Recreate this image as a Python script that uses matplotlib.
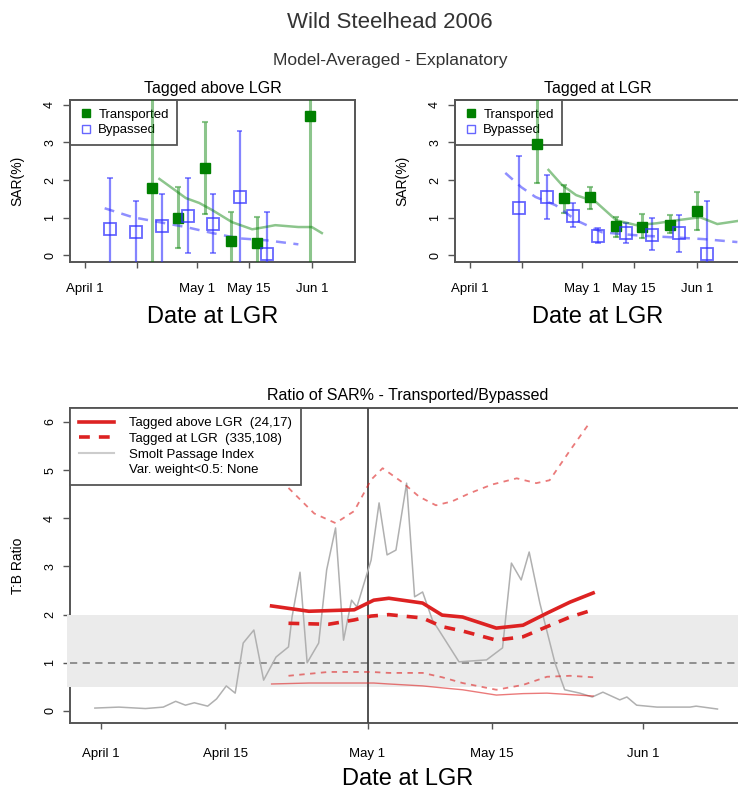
import numpy as np
import matplotlib
matplotlib.use("Agg")
import matplotlib.pyplot as plt
from matplotlib.lines import Line2D
from matplotlib.patches import Rectangle
import matplotlib.transforms as mtransforms

plt.rcParams['font.family'] = ['Liberation Sans', 'DejaVu Sans']

# x = days since April 1
tick_days = [0, 14, 30, 44, 61]
tick_top = ["April 1", "", "May 1", "May 15", "Jun 1"]
tick_bottom = ["April 1", "April 15", "May 1", "May 15", "Jun 1"]

# --- Tagged above LGR ---
a_tr_day = [18.1, 25.1, 32.2, 39.1, 46.2, 60.4]
a_tr_sar = [1.78, 0.99, 2.32, 0.37, 0.32, 3.71]
a_tr_lo = [-0.3, 0.19, 1.09, -0.3, -0.3, -0.3]
a_tr_hi = [4.5, 1.81, 3.55, 1.14, 1.01, 4.5]
a_by_day = [6.7, 13.8, 20.6, 27.7, 34.5, 41.5, 48.9]
a_by_sar = [0.69, 0.61, 0.77, 1.04, 0.83, 1.55, 0.02]
a_by_lo = [-0.3, -0.3, -0.3, 0.05, 0.05, -0.3, -0.3]
a_by_hi = [2.05, 1.44, 1.63, 2.05, 1.63, 3.31, 1.14]
a_tr_fit_day = [20, 23.5, 27.1, 30.7, 34.2, 39.5, 44.9, 48.4, 51.1, 57.3, 60.9, 63.6]
a_tr_fit = [2.03, 1.78, 1.52, 1.39, 1.2, 0.88, 0.69, 0.75, 0.8, 0.75, 0.75, 0.59]
a_by_fit_day = [5.3, 12.9, 20, 27.1, 34.2, 41.3, 48.4, 57.3]
a_by_fit = [1.25, 1.01, 0.88, 0.75, 0.59, 0.45, 0.4, 0.29]

# --- Tagged at LGR ---
g_tr_day = [17.9, 25.2, 32.3, 39.3, 46.3, 53.7, 61.0]
g_tr_sar = [2.96, 1.52, 1.55, 0.77, 0.75, 0.8, 1.17]
g_tr_lo = [1.92, 1.12, 1.23, 0.48, 0.45, 0.59, 0.67]
g_tr_hi = [4.5, 1.87, 1.81, 1.01, 1.09, 1.07, 1.68]
g_by_day = [13.3, 20.6, 27.6, 34.4, 42.0, 49.0, 56.1, 63.7]
g_by_sar = [1.25, 1.55, 1.04, 0.51, 0.59, 0.53, 0.59, 0.02]
g_by_lo = [-0.3, 0.96, 0.75, 0.32, 0.32, 0.13, 0.08, -0.3]
g_by_hi = [2.64, 2.13, 1.39, 0.72, 0.85, 0.99, 1.07, 1.44]
g_tr_fit_day = [21.1, 24.7, 28.5, 33.9, 39.3, 44.7, 50.1, 55.6, 61.8, 66.4, 71.8]
g_tr_fit = [2.27, 1.87, 1.6, 1.41, 0.93, 0.8, 0.85, 0.93, 1.01, 0.83, 0.91]
g_by_fit_day = [9.5, 13.8, 17.6, 23, 28.5, 35.5, 44.7, 53.7, 62.6, 71.8]
g_by_fit = [2.19, 1.81, 1.55, 1.33, 0.93, 0.61, 0.53, 0.48, 0.43, 0.35]

# --- Ratio panel ---
ra_day = [19.2, 23.4, 28.5, 30.7, 32.4, 36.2, 38.4, 40.7, 44.5, 47.5, 50.2, 52.8, 55.4]
ra_est = [2.18, 2.07, 2.1, 2.3, 2.34, 2.24, 1.99, 1.95, 1.72, 1.78, 2.03, 2.26, 2.45]
ra_lo = [0.56, 0.58, 0.58, 0.58, 0.56, 0.52, 0.48, 0.44, 0.33, 0.36, 0.37, 0.34, 0.31]
rg_day = [21.1, 25.6, 28.5, 30.4, 32.4, 36.2, 38.4, 40.7, 44.5, 47.5, 50.2, 52.8, 55.4]
rg_est = [1.82, 1.8, 1.89, 1.97, 2.0, 1.93, 1.75, 1.66, 1.47, 1.54, 1.75, 1.95, 2.1]
rg_lo = [0.73, 0.81, 0.81, 0.81, 0.79, 0.79, 0.7, 0.58, 0.44, 0.54, 0.71, 0.73, 0.7]
ru_day = [21.1, 24.0, 26.4, 28.5, 30.4, 31.7, 33.9, 35.8, 37.7, 39.5, 41.5, 44.0, 46.8, 49.0, 50.5, 52.8, 54.8]
ru_hi = [4.63, 4.1, 3.9, 4.15, 4.8, 5.04, 4.75, 4.45, 4.27, 4.35, 4.52, 4.7, 4.83, 4.73, 4.79, 5.41, 5.93]
spi_day = [-0.7, 2, 5, 7, 8.4, 9.5, 10.5, 12, 13, 14.1, 15.1, 16, 17.2, 18.3, 19.7, 21.1, 21.5,
           22.4, 23.2, 24.5, 25.4, 26.4, 27.3, 28.2, 28.8, 30.4, 31.3, 32.2, 33.2, 34.4, 35.3,
           36.2, 37.3, 40.3, 43.4, 45.2, 46.2, 47.3, 48.2, 49.4, 51.1, 52.2, 53.9, 55.3, 56.5,
           58.4, 59.2, 60.3, 62.6, 66.3, 67, 69.4]
spi = [0.06, 0.08, 0.05, 0.08, 0.2, 0.12, 0.17, 0.1, 0.25, 0.52, 0.37, 1.41, 1.68, 0.64, 1.12,
       1.33, 1.95, 2.88, 1.0, 1.41, 2.93, 3.8, 1.47, 2.3, 2.16, 3.13, 4.32, 3.24, 3.34, 4.73,
       2.37, 2.47, 1.89, 1.02, 1.06, 1.31, 3.07, 2.72, 3.3, 2.24, 1.0, 0.44, 0.37, 0.29, 0.39,
       0.23, 0.29, 0.12, 0.08, 0.08, 0.1, 0.04]

GREEN = "#008000"
BLUE = "#3333ff"
RED = "#dd2222"
BOX = "#555555"

fig = plt.figure(figsize=(7.38, 7.90), dpi=100)


def style_axes(ax, labels, pad_x):
    for s in ax.spines.values():
        s.set_color(BOX)
        s.set_linewidth(1.4)
    ax.set_xticks(tick_days)
    ax.set_xticklabels(labels)
    ax.tick_params(axis='x', length=4, width=1, color=BOX, pad=pad_x, labelsize=9.5)
    ax.tick_params(axis='y', length=5, width=1, color=BOX, pad=5, labelsize=9)
    for t in ax.get_yticklabels():
        t.set_rotation(90)
        t.set_va('center')


def sar_panel(rect, title, tr, by, trfit, byfit):
    ax = fig.add_axes(rect)
    ax.set_xlim(-4, 72.5)
    ax.set_ylim(-0.18, 4.13)
    ax.set_yticks([0, 1, 2, 3, 4])
    style_axes(ax, tick_top, 11)
    ax.set_title(title, fontsize=11.5, pad=5)
    ax.set_ylabel("SAR(%)", fontsize=10, labelpad=14)
    ax.set_xlabel("Date at LGR", fontsize=17, labelpad=8)

    d, v, lo, hi = tr
    ax.vlines(d, lo, hi, color=GREEN, alpha=0.45, lw=2.2, zorder=3)
    ax.hlines(hi, np.array(d) - 0.8, np.array(d) + 0.8, color=GREEN, alpha=0.45, lw=1.5, zorder=3)
    ax.hlines(lo, np.array(d) - 0.8, np.array(d) + 0.8, color=GREEN, alpha=0.45, lw=1.5, zorder=3)
    d2, v2, lo2, hi2 = by
    ax.vlines(d2, lo2, hi2, color=BLUE, alpha=0.6, lw=1.6, zorder=3)
    ax.hlines(hi2, np.array(d2) - 0.8, np.array(d2) + 0.8, color=BLUE, alpha=0.6, lw=1.3, zorder=3)
    ax.hlines(lo2, np.array(d2) - 0.8, np.array(d2) + 0.8, color=BLUE, alpha=0.6, lw=1.3, zorder=3)

    ax.plot(trfit[0], trfit[1], color=GREEN, alpha=0.45, lw=1.8, zorder=3)
    ax.plot(byfit[0], byfit[1], color=BLUE, alpha=0.55, lw=1.8, ls=(0, (4, 3)), zorder=3)

    ax.plot(d, v, 's', color=GREEN, ms=7.5, zorder=4)
    ax.plot(d2, v2, 's', mfc='none', mec=BLUE, mew=1.3, alpha=0.75, ms=8, zorder=4)

    h = [Line2D([], [], marker='s', ls='none', color=GREEN, ms=6),
         Line2D([], [], marker='s', ls='none', mfc='none', mec=BLUE, ms=6, alpha=0.75)]
    leg = ax.legend(h, ["Transported", "Bypassed"], loc='upper left', borderaxespad=0,
                    fontsize=9.5, fancybox=False, edgecolor=BOX, framealpha=1,
                    handletextpad=0.3, handlelength=1.2, borderpad=0.65, labelspacing=0.25)
    leg.get_frame().set_linewidth(1.3)
    leg.set_zorder(2)
    return ax


sar_panel([70 / 738, 1 - 262 / 790, 285 / 738, 162 / 790], "Tagged above LGR",
          (a_tr_day, a_tr_sar, a_tr_lo, a_tr_hi), (a_by_day, a_by_sar, a_by_lo, a_by_hi),
          (a_tr_fit_day, a_tr_fit), (a_by_fit_day, a_by_fit))
sar_panel([455 / 738, 1 - 262 / 790, 285 / 738, 162 / 790], "Tagged at LGR",
          (g_tr_day, g_tr_sar, g_tr_lo, g_tr_hi), (g_by_day, g_by_sar, g_by_lo, g_by_hi),
          (g_tr_fit_day, g_tr_fit), (g_by_fit_day, g_by_fit))

# bottom ratio panel
ax = fig.add_axes([70 / 738, 1 - 723 / 790, 675 / 738, 315 / 790])
ax.set_xlim(-3.5, 72.5)
ax.set_ylim(-0.25, 6.29)
ax.set_yticks(range(7))
style_axes(ax, tick_bottom, 14)
ax.set_title("Ratio of SAR% - Transported/Bypassed", fontsize=11.5, pad=6)
ax.set_ylabel("T:B Ratio", fontsize=10, labelpad=14)
ax.set_xlabel("Date at LGR", fontsize=17, labelpad=6)

trans = mtransforms.blended_transform_factory(ax.transAxes, ax.transData)
ax.add_patch(Rectangle((-0.004, 0.5), 1.01, 1.5, transform=trans, color="#ebebeb",
                       lw=0, zorder=2.6, clip_on=False))
ax.axhline(1, color="#888888", lw=1.3, ls=(0, (4, 3)), zorder=2.7)
ax.axvline(30, color="#444444", lw=1.3, zorder=2.8)
ax.plot(spi_day, spi, color="#b0b0b0", lw=1.1, zorder=3)

ax.plot(ra_day, ra_est, color=RED, lw=2.6, zorder=4)
ax.plot(rg_day, rg_est, color=RED, lw=2.6, ls=(0, (3, 2.5)), zorder=4)
ax.plot(ra_day, ra_lo, color=RED, lw=1.0, alpha=0.6, zorder=4)
ax.plot(rg_day, rg_lo, color=RED, lw=1.3, alpha=0.6, ls=(0, (3, 3)), zorder=4)
ax.plot(ru_day, ru_hi, color=RED, lw=1.3, alpha=0.6, ls=(0, (3, 3)), zorder=4)

h = [Line2D([], [], color=RED, lw=2.6),
     Line2D([], [], color=RED, lw=2.6, ls=(0, (3, 2.5))),
     Line2D([], [], color="#cccccc", lw=1.5),
     Line2D([], [], color='none')]
leg = ax.legend(h, ["Tagged above LGR  (24,17)", "Tagged at LGR  (335,108)",
                    "Smolt Passage Index", "Var. weight<0.5: None"],
                loc='upper left', borderaxespad=0, fontsize=9.5, fancybox=False,
                edgecolor=BOX, framealpha=1, handlelength=2.6, handletextpad=1.2,
                borderpad=0.7, labelspacing=0.25)
leg.get_frame().set_linewidth(1.3)
leg.set_zorder(5)

fig.text(390 / 738, 1 - 22 / 790, "Wild Steelhead 2006", ha='center', va='center',
         fontsize=16, color="#333333")
fig.text(390 / 738, 1 - 60 / 790, "Model-Averaged - Explanatory", ha='center', va='center',
         fontsize=12.5, color="#333333")

fig.savefig("out.png", dpi=100)
